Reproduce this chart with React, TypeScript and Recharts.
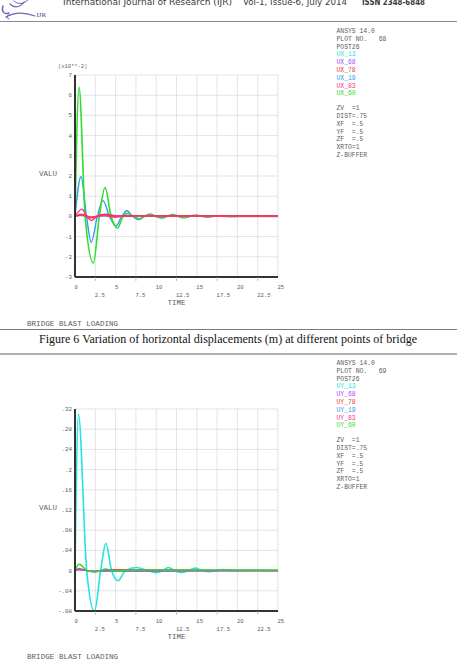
import { LineChart, Line, XAxis, YAxis, CartesianGrid } from 'recharts'

const MONO = '"Liberation Mono", "DejaVu Sans Mono", monospace'
const INK = '#5c5c5c'

// shared time axis
const timeTicks = [0, 2.5, 5, 7.5, 10, 12.5, 15, 17.5, 20, 22.5, 25]
const timeTickLabels = ['0', '2.5', '5', '7.5', '10', '12.5', '15', '17.5', '20', '22.5', '25']

// plot 68 (UX, x10**-2)
const uxTicks = [-3, -2, -1, 0, 1, 2, 3, 4, 5, 6, 7]
const uxTickLabels = ['-3', '-2', '-1', '0', '1', '2', '3', '4', '5', '6', '7']

const ux13Time = [0, 0.6, 1.9, 3.5, 6, 25]
const ux13Val = [0, 0.05, -0.03, 0.02, 0, 0]
const ux68Time = [0, 0.7, 2.0, 3.5, 25]
const ux68Val = [0, 0.08, -0.05, 0.03, 0]
const ux78Time = [0, 0.8, 2.0, 3.7, 5.2, 8, 25]
const ux78Val = [0, 0.1, -0.06, 0.1, 0.01, 0.02, 0.02]
const ux19Time = [0, 0.74, 1.42, 2.0, 2.75, 3.45, 4.25, 5.05, 5.75, 6.4, 7.1, 7.8, 8.5, 9.2, 10.0, 10.7, 11.4, 12.1, 12.8, 13.5, 14.2, 14.9, 15.6, 16.3, 17.0, 17.7, 19, 21, 25]
const ux19Val = [0, 1.96, 0, -1.28, 0, 0.78, 0, -0.47, 0, 0.28, 0, -0.16, 0, 0.11, 0, -0.07, 0, 0.07, 0, -0.05, 0, 0.04, 0, -0.02, 0, 0.02, 0, 0, 0]
const ux60Time = [0, 0.5, 1.25, 2.26, 3.0, 3.7, 4.45, 5.25, 5.9, 6.5, 7.2, 7.9, 8.6, 9.3, 9.95, 10.6, 11.3, 12.0, 12.7, 13.4, 14.1, 14.9, 15.6, 16.3, 17.0, 17.8, 18.5, 19.2, 20, 21, 25]
const ux60Val = [0, 6.39, 0, -2.3, 0, 1.43, 0, -0.57, 0, 0.15, 0, -0.12, 0, 0.1, 0, -0.08, 0, 0.09, 0, -0.07, 0, 0.07, 0, -0.04, 0, 0.03, 0, -0.02, 0, 0, 0]
const ux83Time = [0, 0.85, 1.45, 2.0, 2.7, 3.4, 4.1, 4.9, 5.6, 7, 25]
const ux83Val = [0, 0.36, 0, -0.2, 0, 0.1, 0, -0.04, 0, 0, 0]

// plot 69 (UY)
const uyTicks = [-0.08, -0.04, 0, 0.04, 0.08, 0.12, 0.16, 0.2, 0.24, 0.28, 0.32]
const uyTickLabels = ['-.08', '-.04', '0', '.04', '.08', '.12', '.16', '.2', '.24', '.28', '.32']

const uy13Time = [0, 0.42, 1.44, 2.4, 3.16, 3.8, 4.5, 5.3, 6.2, 7.6, 8.9, 10.0, 10.8, 11.5, 12.3, 13.1, 14.0, 14.8, 15.7, 16.5, 17.4, 18.2, 19.5, 21, 25]
const uy13Val = [0, 0.31, 0, -0.081, 0, 0.054, 0, -0.02, 0, 0.006, 0, -0.004, 0, 0.006, 0, -0.004, 0, 0.005, 0, -0.002, 0, 0.002, 0, 0, 0]
const uy68Time = [0, 0.4, 1.4, 2.4, 25]
const uy68Val = [0, 0.003, 0, -0.001, 0]
const uy78Time = [0, 0.6, 2.4, 3.8, 25]
const uy78Val = [0, 0.002, -0.002, 0.002, 0]
const uy19Time = [0, 0.5, 1.5, 2.5, 25]
const uy19Val = [0, 0.002, 0, -0.001, 0]
const uy83Time = [0, 0.5, 1.4, 2.3, 3.6, 5, 25]
const uy83Val = [0, 0.004, 0, -0.002, 0.001, 0, 0]
const uy60Time = [0, 0.5, 1.4, 2.4, 3.1, 3.8, 4.6, 5.3, 6.5, 25]
const uy60Val = [0, 0.0125, 0.001, -0.003, 0, 0.003, 0, -0.001, 0.001, 0.001]

const CYAN = '#22e4e4'
const PURPLE = '#a84cff'
const RED = '#f03c3c'
const BLUE = '#2c9cf0'
const PINK = '#ff2f8e'
const GREEN = '#2fdc2f'

type Series = { name: string; color: string; width: number; time: number[]; val: number[] }

const uxSeries: Series[] = [
  { name: 'UX_13', color: CYAN, width: 1.2, time: ux13Time, val: ux13Val },
  { name: 'UX_68', color: PURPLE, width: 1.2, time: ux68Time, val: ux68Val },
  { name: 'UX_19', color: BLUE, width: 1.4, time: ux19Time, val: ux19Val },
  { name: 'UX_60', color: GREEN, width: 1.6, time: ux60Time, val: ux60Val },
  { name: 'UX_78', color: RED, width: 2, time: ux78Time, val: ux78Val },
  { name: 'UX_83', color: PINK, width: 1.4, time: ux83Time, val: ux83Val },
]

const uySeries: Series[] = [
  { name: 'UY_13', color: CYAN, width: 1.6, time: uy13Time, val: uy13Val },
  { name: 'UY_68', color: PURPLE, width: 1.2, time: uy68Time, val: uy68Val },
  { name: 'UY_78', color: RED, width: 1.4, time: uy78Time, val: uy78Val },
  { name: 'UY_19', color: BLUE, width: 1.2, time: uy19Time, val: uy19Val },
  { name: 'UY_83', color: PINK, width: 1.3, time: uy83Time, val: uy83Val },
  { name: 'UY_60', color: GREEN, width: 1.5, time: uy60Time, val: uy60Val },
]

const toPoints = (t: number[], v: number[]) => t.map((time, i) => ({ time, val: v[i] }))

function TimeTick({ x, y, payload }: { x?: number; y?: number; payload?: { value: number } }) {
  if (!payload || x == null || y == null) return null
  const v = payload.value
  const whole = v % 5 === 0
  const i = timeTicks.indexOf(v)
  return (
    <g>
      {!whole && <line x1={x} x2={x} y1={y} y2={y + 4} stroke="#aaa" strokeWidth={0.7} />}
      <text x={x - 0.5} y={y + (whole ? 12 : 20)} textAnchor="start" fontSize={5.6} fill={INK} fontFamily={MONO}>
        {timeTickLabels[i]}
      </text>
    </g>
  )
}

function ValTick({ x, y, payload, ticks, labels }: {
  x?: number; y?: number; payload?: { value: number }; ticks: number[]; labels: string[]
}) {
  if (!payload || x == null || y == null) return null
  let i = 0
  ticks.forEach((t, k) => { if (Math.abs(t - payload.value) < Math.abs(ticks[i] - payload.value)) i = k })
  return (
    <text x={x} y={y} dy={2} textAnchor="end" fontSize={5.8} fill={INK} fontFamily={MONO}>
      {labels[i]}
    </text>
  )
}

function BlastPlot({ top, ticks, labels, series }: {
  top: number; ticks: number[]; labels: string[]; series: Series[]
}) {
  return (
    <div style={{ position: 'absolute', left: 0, top }}>
      <LineChart width={290} height={250} margin={{ top: 15, right: 12, bottom: 3, left: 45 }}>
        <CartesianGrid stroke="#dcdcdc" strokeWidth={0.8} />
        <XAxis
          dataKey="time"
          type="number"
          domain={[0, 25]}
          ticks={timeTicks}
          interval={0}
          height={30}
          tickSize={0}
          tickMargin={0}
          tickLine={false}
          axisLine={{ stroke: '#333', strokeWidth: 2 }}
          tick={<TimeTick />}
          allowDataOverflow
        />
        <YAxis
          type="number"
          domain={[ticks[0], ticks[ticks.length - 1]]}
          ticks={ticks}
          interval={0}
          width={30}
          tickSize={0}
          tickMargin={3}
          tickLine={false}
          axisLine={{ stroke: '#333', strokeWidth: 2 }}
          tick={<ValTick ticks={ticks} labels={labels} />}
          allowDataOverflow
        />
        {series.map(s => (
          <Line
            key={s.name}
            data={toPoints(s.time, s.val)}
            dataKey="val"
            type="monotone"
            stroke={s.color}
            strokeWidth={s.width}
            dot={false}
            isAnimationActive={false}
          />
        ))}
      </LineChart>
    </div>
  )
}

function Legend({ y, plotNo, prefix }: { y: number; plotNo: string; prefix: string }) {
  const rows: { text: string; color: string; at: number }[] = [
    { text: 'ANSYS 14.0', color: INK, at: 0 },
    { text: `PLOT NO.   ${plotNo}`, color: INK, at: 1 },
    { text: 'POST26', color: INK, at: 2 },
    { text: `${prefix}_13`, color: CYAN, at: 3 },
    { text: `${prefix}_68`, color: PURPLE, at: 4 },
    { text: `${prefix}_78`, color: RED, at: 5 },
    { text: `${prefix}_19`, color: BLUE, at: 6 },
    { text: `${prefix}_83`, color: PINK, at: 7 },
    { text: `${prefix}_60`, color: GREEN, at: 8 },
    { text: 'ZV  =1', color: INK, at: 9.9 },
    { text: 'DIST=.75', color: INK, at: 10.9 },
    { text: 'XF  =.5', color: INK, at: 11.9 },
    { text: 'YF  =.5', color: INK, at: 12.9 },
    { text: 'ZF  =.5', color: INK, at: 13.9 },
    { text: 'XRTO=1', color: INK, at: 14.9 },
    { text: 'Z-BUFFER', color: INK, at: 15.9 },
  ]
  return (
    <g fontFamily={MONO} fontSize={6.4}>
      {rows.map(r => (
        <text key={r.text} x={336.5} y={y + r.at * 7.8} fill={r.color} style={{ whiteSpace: 'pre' }}>
          {r.text}
        </text>
      ))}
    </g>
  )
}

export default function App() {
  return (
    <div style={{ position: 'relative', width: 457, height: 660, background: '#fff', overflow: 'hidden' }}>
      <style>{'body{margin:0}'}</style>

      <BlastPlot top={60} ticks={uxTicks} labels={uxTickLabels} series={uxSeries} />
      <BlastPlot top={394} ticks={uyTicks} labels={uyTickLabels} series={uySeries} />

      <svg width={457} height={660} style={{ position: 'absolute', left: 0, top: 0, pointerEvents: 'none' }}>
        {/* page header */}
        <g fill="none" stroke="#6a63b8" strokeLinecap="round">
          <path d="M3 6 C 1 11, 4 15, 9 13" strokeWidth={1.4} />
          <path d="M10 4 C 14 8, 20 8, 24 2" strokeWidth={1.2} />
          <path d="M14 1 C 18 5, 24 4, 28 0" strokeWidth={1} />
          <path d="M6 17 C 14 12, 24 12, 35 16" strokeWidth={1.2} />
          <path d="M9 15 L 6 17 L 9 19" strokeWidth={1} />
        </g>
        <text x={36.5} y={17} fontFamily='"Liberation Serif", serif' fontSize={7} fill="#4d4699">IJR</text>
        <g fontFamily='"DejaVu Sans", sans-serif' fontSize={9.5} fill="#3a3a3a">
          <text x={63} y={4.5} textLength={169} lengthAdjust="spacingAndGlyphs">International Journal of Research (IJR)</text>
          <text x={243} y={4.5} textLength={104} lengthAdjust="spacingAndGlyphs">Vol-1, Issue-6, July 2014</text>
          <text x={362} y={4.5} textLength={63} lengthAdjust="spacingAndGlyphs" fontWeight="bold">ISSN 2348-6848</text>
        </g>
        <line x1={0} x2={457} y1={21.5} y2={21.5} stroke="#8a8a8a" strokeWidth={1} />

        {/* plot 68 annotations */}
        <text x={58} y={68} fontFamily={MONO} fontSize={5.4} fill={INK}>(x10**-2)</text>
        <text x={39} y={175.5} fontFamily={MONO} fontSize={7.5} fill={INK}>VALU</text>
        <text x={176.5} y={304.5} textAnchor="middle" fontFamily={MONO} fontSize={7.5} fill={INK}>TIME</text>
        <text x={27} y={325.5} fontFamily={MONO} fontSize={7.6} fill={INK}>BRIDGE BLAST LOADING</text>
        <Legend y={33} plotNo="68" prefix="UX" />

        {/* caption */}
        <line x1={0} x2={457} y1={329.5} y2={329.5} stroke="#7a7a7a" strokeWidth={1} />
        <text x={39} y={342.5} fontFamily='"Liberation Serif", serif' fontSize={11.5} fill="#111" textLength={378} lengthAdjust="spacingAndGlyphs">
          Figure 6 Variation of horizontal displacements (m) at different points of bridge
        </text>
        <line x1={0} x2={457} y1={354} y2={354} stroke="#b0b0b0" strokeWidth={2} />

        {/* plot 69 annotations */}
        <text x={39} y={510} fontFamily={MONO} fontSize={7.5} fill={INK}>VALU</text>
        <text x={176.5} y={639} textAnchor="middle" fontFamily={MONO} fontSize={7.5} fill={INK}>TIME</text>
        <text x={27} y={658.5} fontFamily={MONO} fontSize={7.6} fill={INK}>BRIDGE BLAST LOADING</text>
        <Legend y={365} plotNo="69" prefix="UY" />
      </svg>
    </div>
  )
}
